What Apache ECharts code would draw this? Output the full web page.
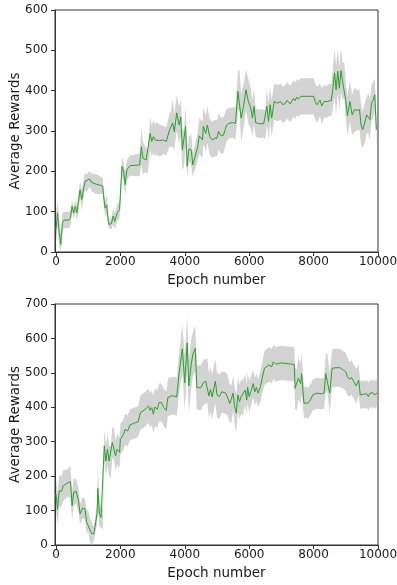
<!DOCTYPE html>
<html>
<head>
<meta charset="utf-8">
<script src="https://cdn.jsdelivr.net/npm/echarts@6/dist/echarts.min.js"></script>
<style>
    html, body { margin: 0; padding: 0; background: #fff; }
    #main { width: 397px; height: 585px; }
</style>
</head>
<body>
<div id="main"></div>
<script>
    // top panel: epoch, mean reward, std (band half width)
    var topEpochs = [0, 50, 100, 150, 200, 250, 400, 450, 500, 550, 600, 650, 700, 750, 800, 900, 950, 1050, 1100, 1250,
        1450, 1475, 1525, 1575, 1625, 1650, 1725, 1775, 1825, 1900, 1975, 2050, 2100, 2150, 2200, 2300, 2600, 2650, 2700, 2800,
        2850, 2925, 2975, 3025, 3075, 3125, 3225, 3325, 3425, 3525, 3575, 3625, 3675, 3750, 3825, 3875, 3925, 3975, 4025, 4075,
        4125, 4200, 4250, 4325, 4400, 4450, 4550, 4575, 4650, 4700, 4775, 4850, 4925, 5000, 5050, 5125, 5200, 5300, 5375, 5475,
        5575, 5650, 5700, 5750, 5825, 5900, 5975, 6050, 6100, 6150, 6200, 6300, 6450, 6500, 6550, 6600, 6650, 6700, 6775, 6875,
        6975, 7050, 7125, 7175, 7275, 7375, 7425, 7475, 7525, 7600, 7800, 8000, 8050, 8100, 8200, 8250, 8325, 8425, 8475, 8550,
        8600, 8650, 8700, 8750, 8800, 8850, 8900, 8950, 9000, 9050, 9125, 9200, 9275, 9350, 9425, 9475, 9525, 9600, 9650, 9700,
        9750, 9800, 9850, 9900, 9950];
    var topMean = [55, 97, 48, 19, 72, 79, 79, 85, 113, 97, 113, 97, 126, 154, 130, 175, 171, 181, 173, 168,
        164, 142, 109, 117, 76, 68, 71, 89, 76, 97, 105, 212, 200, 167, 204, 214, 216, 261, 233, 228,
        224, 294, 274, 286, 278, 282, 276, 278, 274, 302, 306, 320, 298, 345, 315, 335, 253, 257, 311, 212,
        255, 253, 216, 237, 261, 288, 278, 312, 294, 315, 286, 278, 282, 282, 299, 288, 290, 315, 319, 321,
        319, 398, 402, 332, 361, 402, 373, 357, 332, 361, 321, 318, 318, 315, 361, 324, 365, 332, 373, 369,
        373, 365, 369, 376, 367, 381, 375, 384, 379, 386, 386, 386, 373, 365, 377, 362, 373, 373, 377, 376,
        406, 444, 402, 448, 406, 450, 423, 427, 376, 338, 373, 340, 353, 351, 353, 315, 303, 324, 340, 344,
        328, 369, 377, 390, 303];
    var topStd = [40, 30, 35, 25, 25, 20, 20, 20, 15, 15, 15, 18, 25, 20, 25, 20, 22, 20, 22, 25,
        20, 20, 20, 25, 15, 10, 15, 20, 20, 20, 22, 25, 25, 30, 25, 25, 28, 45, 40, 30,
        30, 40, 40, 40, 40, 40, 40, 35, 35, 40, 45, 60, 45, 45, 45, 45, 50, 45, 50, 30,
        30, 40, 30, 30, 35, 45, 45, 45, 45, 45, 45, 45, 45, 45, 45, 45, 45, 40, 38, 38,
        40, 50, 50, 60, 55, 50, 55, 50, 45, 45, 35, 35, 35, 35, 45, 45, 45, 45, 45, 45,
        45, 45, 45, 45, 45, 45, 45, 45, 45, 45, 45, 45, 45, 45, 40, 45, 40, 40, 40, 40,
        50, 60, 60, 55, 55, 55, 45, 45, 45, 50, 50, 50, 55, 50, 50, 50, 45, 50, 45, 50,
        50, 45, 45, 40, 40];

    // bottom panel
    var bottomEpochs = [0, 50, 100, 175, 225, 340, 450, 500, 550, 625, 700, 750, 825, 900, 950, 1000, 1050, 1100, 1175, 1225,
        1275, 1300, 1350, 1400, 1450, 1500, 1550, 1600, 1650, 1700, 1750, 1800, 1850, 1900, 1975, 2000, 2100, 2150, 2225, 2300,
        2400, 2550, 2625, 2700, 2800, 2875, 2925, 2975, 3025, 3075, 3150, 3200, 3275, 3350, 3425, 3475, 3575, 3675, 3750, 3825,
        3925, 4000, 4075, 4125, 4200, 4250, 4325, 4375, 4500, 4575, 4650, 4700, 4750, 4800, 4850, 4950, 5000, 5075, 5150, 5275,
        5325, 5400, 5450, 5500, 5550, 5600, 5650, 5700, 5750, 5800, 5875, 5925, 5950, 6000, 6050, 6125, 6175, 6225, 6275, 6350,
        6400, 6475, 6525, 6600, 6650, 6700, 6750, 6825, 6900, 7025, 7225, 7400, 7425, 7475, 7525, 7600, 7625, 7650, 7700, 7750,
        7825, 7900, 7975, 8100, 8250, 8325, 8375, 8425, 8500, 8575, 8675, 8825, 8925, 9000, 9050, 9125, 9175, 9250, 9325, 9400,
        9450, 9550, 9600, 9650, 9700, 9750, 9800, 9850, 9900, 9975];
    var bottomMean = [148, 104, 157, 156, 172, 179, 184, 114, 153, 156, 129, 90, 107, 106, 66, 71, 46, 34, 32, 61,
        90, 164, 92, 80, 75, 288, 244, 278, 244, 240, 298, 295, 259, 278, 269, 307, 322, 336, 331, 349,
        353, 358, 385, 389, 397, 404, 391, 399, 380, 401, 394, 414, 414, 399, 391, 428, 433, 433, 430, 500,
        570, 471, 587, 462, 525, 554, 571, 457, 457, 471, 476, 478, 433, 452, 430, 476, 436, 431, 445, 441,
        436, 411, 410, 441, 402, 383, 436, 416, 431, 426, 450, 421, 458, 431, 445, 469, 445, 458, 441, 460,
        484, 513, 518, 523, 525, 518, 532, 525, 527, 529, 526, 525, 455, 450, 484, 469, 498, 474, 412, 416,
        412, 421, 436, 441, 439, 441, 498, 503, 441, 513, 515, 515, 508, 503, 489, 481, 487, 474, 462, 479,
        436, 438, 436, 439, 431, 441, 436, 442, 436, 442];
    var bottomStd = [45, 45, 45, 45, 45, 40, 45, 40, 40, 35, 35, 30, 30, 30, 35, 30, 35, 35, 20, 25,
        30, 60, 40, 30, 30, 45, 45, 45, 45, 45, 45, 45, 45, 45, 45, 45, 45, 45, 45, 45,
        45, 45, 50, 50, 50, 50, 50, 50, 55, 55, 55, 55, 55, 55, 55, 55, 55, 55, 55, 60,
        70, 80, 75, 80, 70, 65, 65, 65, 65, 65, 65, 65, 65, 65, 65, 65, 65, 65, 60, 60,
        60, 55, 55, 50, 55, 55, 50, 50, 50, 50, 45, 45, 45, 45, 45, 40, 40, 40, 40, 45,
        45, 50, 50, 50, 50, 50, 50, 50, 50, 50, 50, 50, 60, 60, 60, 60, 60, 50, 45, 45,
        45, 45, 45, 45, 45, 45, 55, 55, 60, 55, 55, 55, 55, 55, 55, 50, 50, 50, 50, 45,
        40, 40, 40, 40, 40, 40, 40, 40, 40, 40];

    var xTicks = [0, 2000, 4000, 6000, 8000, 10000];

    var chart = echarts.init(document.getElementById('main'));
    var font = 'DejaVu Sans';

    function bandSeries(idx, epochs, mean, std) {
        return {
            type: 'custom',
            xAxisIndex: idx,
            yAxisIndex: idx,
            silent: true,
            z: 1,
            data: [[epochs[0], mean[0]]],
            renderItem: function (params, api) {
                var pts = [];
                for (var i = 0; i < epochs.length; i++) {
                    pts.push(api.coord([epochs[i], mean[i] + std[i]]));
                }
                for (var j = epochs.length - 1; j >= 0; j--) {
                    pts.push(api.coord([epochs[j], Math.max(0, mean[j] - std[j])]));
                }
                return { type: 'polygon', shape: { points: pts }, style: { fill: '#d3d3d3' } };
            }
        };
    }

    function lineSeries(idx, epochs, mean) {
        return {
            type: 'line',
            xAxisIndex: idx,
            yAxisIndex: idx,
            z: 2,
            showSymbol: false,
            data: epochs.map(function (e, i) { return [e, mean[i]]; }),
            lineStyle: { color: '#2ca02c', width: 1 },
            itemStyle: { color: '#2ca02c' }
        };
    }

    function xAxisOpt(idx) {
        return {
            type: 'value',
            gridIndex: idx,
            min: -30,
            max: 10000,
            splitNumber: 5,
            name: 'Epoch number',
            nameLocation: 'middle',
            nameGap: 21,
            nameMoveOverlap: false,
            nameTextStyle: { fontFamily: font, fontSize: 13.5, color: '#1a1a1a' },
            axisLine: { onZero: false, lineStyle: { color: '#333' } },
            axisTick: {
                length: 4, lineStyle: { color: '#333' },
                customValues: xTicks
            },
            axisLabel: {
                fontFamily: font, fontSize: 12, color: '#1a1a1a', margin: 4,
                customValues: xTicks,
                formatter: function (v) { return String(v); }
            },
            splitLine: { show: false }
        };
    }

    function yAxisOpt(idx, max) {
        return {
            type: 'value',
            gridIndex: idx,
            min: 0,
            max: max,
            interval: 100,
            name: 'Average Rewards',
            nameLocation: 'middle',
            nameGap: 33,
            nameMoveOverlap: false,
            nameTextStyle: { fontFamily: font, fontSize: 13.5, color: '#1a1a1a' },
            axisLine: { show: true, onZero: false, lineStyle: { color: '#333' } },
            axisTick: { show: true, length: 4, lineStyle: { color: '#333' } },
            axisLabel: { fontFamily: font, fontSize: 12, color: '#1a1a1a', margin: 7 },
            splitLine: { show: false }
        };
    }

    chart.setOption({
        animation: false,
        backgroundColor: '#fff',
        grid: [
            { left: 55, right: 19, top: 10, height: 242, show: true, borderColor: '#333', borderWidth: 1,
              containLabel: false, outerBoundsMode: 'none' },
            { left: 55, right: 19, top: 304, height: 241, show: true, borderColor: '#333', borderWidth: 1,
              containLabel: false, outerBoundsMode: 'none' }
        ],
        xAxis: [xAxisOpt(0), xAxisOpt(1)],
        yAxis: [yAxisOpt(0, 600), yAxisOpt(1, 700)],
        series: [
            bandSeries(0, topEpochs, topMean, topStd),
            lineSeries(0, topEpochs, topMean),
            bandSeries(1, bottomEpochs, bottomMean, bottomStd),
            lineSeries(1, bottomEpochs, bottomMean)
        ]
    });
</script>
</body>
</html>
